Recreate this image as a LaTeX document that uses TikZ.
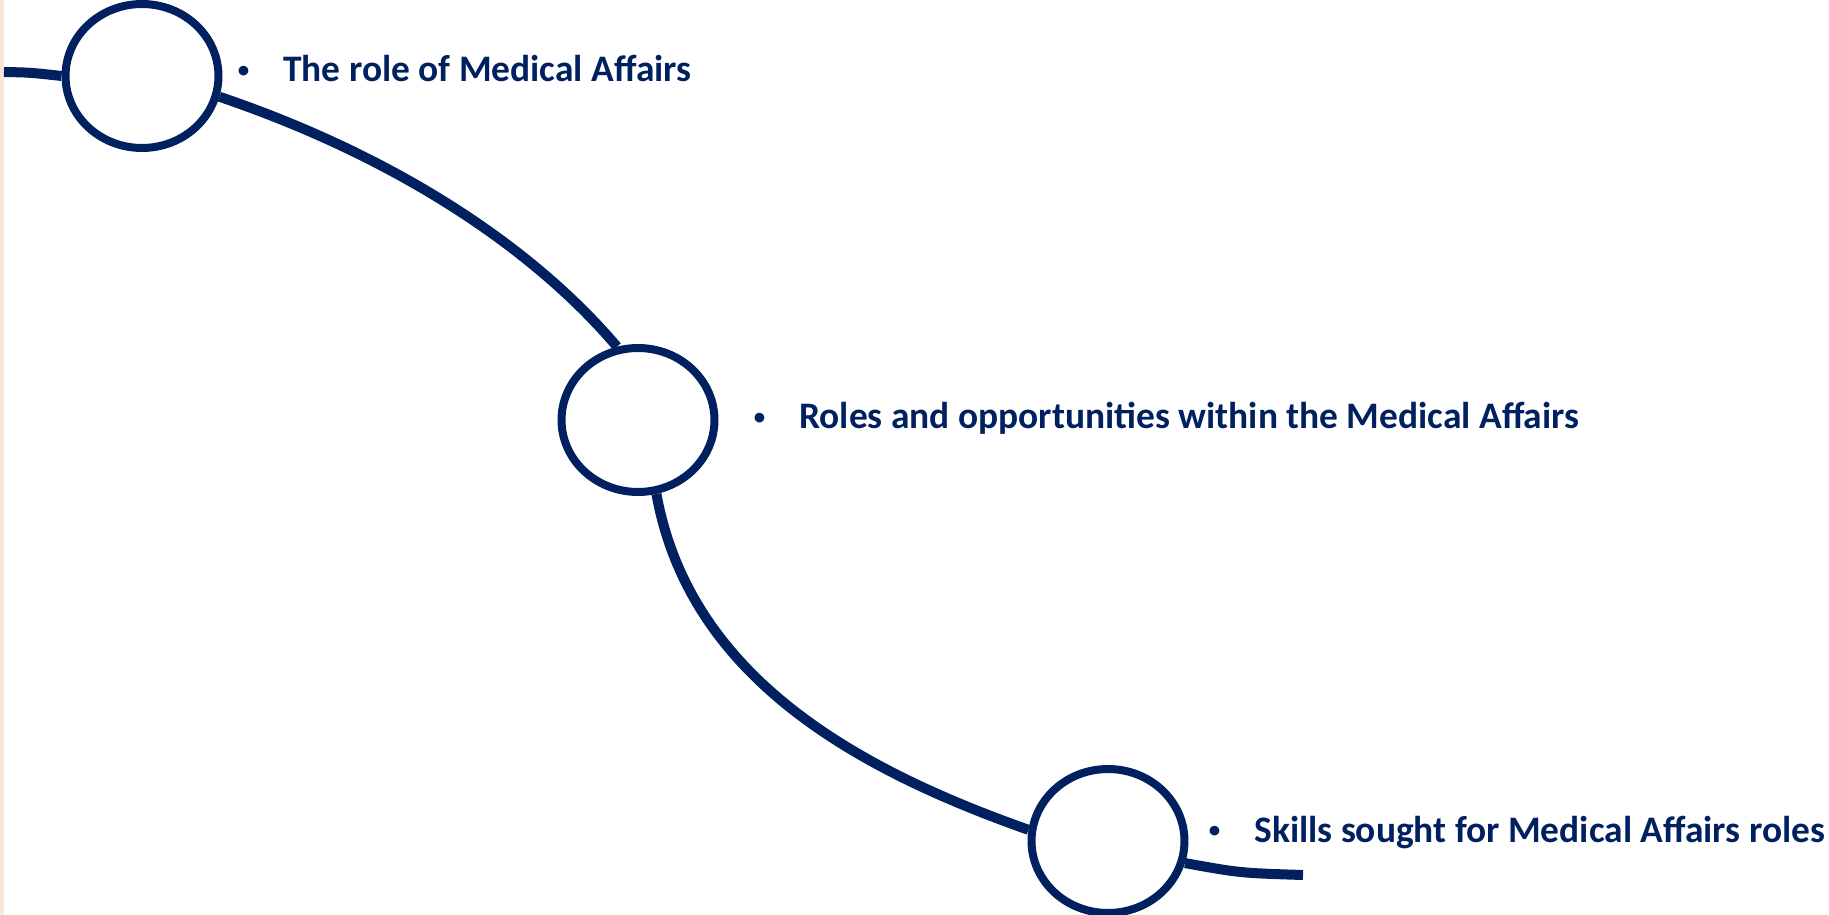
\documentclass[tikz,border=0pt]{standalone}
\usepackage{fontspec}
\setmainfont{Carlito}
\usepackage{tikz}
\usetikzlibrary{shapes.geometric}
\definecolor{navy}{RGB}{0,32,96}
\definecolor{peach}{RGB}{251,229,214}
\newcommand{\topicbullet}{\llap{\raisebox{0.12em}{\fontsize{13}{13}\selectfont\textbullet}\hspace{0.68cm}}}
\tikzset{
    station/.style={ellipse, draw=navy, line width=0.16cm, fill=white, minimum width=3.06cm, minimum height=2.88cm, inner sep=0pt},
    track/.style={draw=navy, line width=0.2cm},
    topic/.style={anchor=base west, inner sep=0pt, text=navy, font=\bfseries\fontsize{21.3}{26}\selectfont}
}

\begin{document}
\begin{tikzpicture}[x=0.02cm, y=-0.02cm]
    \useasboundingbox (0,0) rectangle (1829,915);
    \fill[peach] (0,0) rectangle (4,915);

    % Stations
    \node[station] (role) at (142,76) {};
    \node[station] (opps) at (638,420) {};
    \node[station] (skills) at (1108,841) {};

    % Track
    \coordinate (start) at (4,72);
    \coordinate (end) at (1303,875);
    \draw[track] (start) .. controls (30,72.5) .. (role.180);
    \draw[track] (role.-15) .. controls (400,158) and (535,250) .. (opps.106);
    \draw[track] (opps.-76) .. controls (690,680) and (862,771) .. (skills.172);
    \draw[track] (skills.-16) .. controls (1240,873) .. (end);

    % Topics
    \node[topic] (roletext) at (283,81.5) {\topicbullet The role of Medical Affairs};
    \node[topic] (oppstext) at (799,429) {\topicbullet Roles and opportunities within the Medical Affairs};
    \node[topic] (skillstext) at (1254,842) {\topicbullet Skills sought for Medical Affairs roles};
\end{tikzpicture}
\end{document}
